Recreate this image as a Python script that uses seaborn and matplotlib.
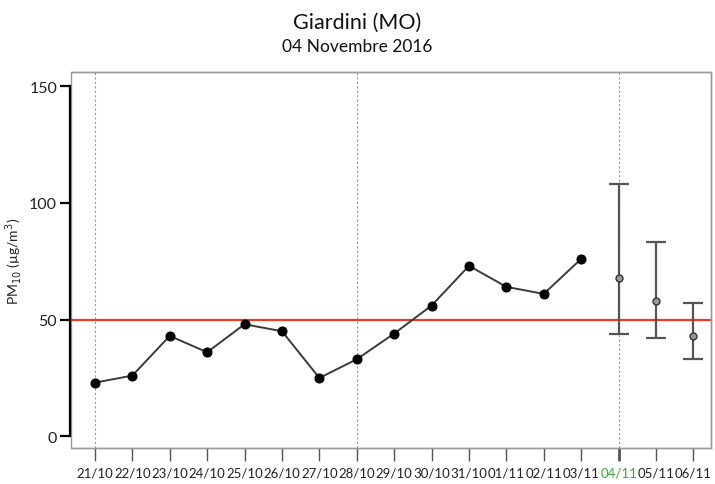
import numpy as np
import pandas as pd
import matplotlib
matplotlib.use('Agg')
import matplotlib.pyplot as plt
import seaborn as sb

# dati osservati e previsti
GIORNI = ['21/10', '22/10', '23/10', '24/10', '25/10', '26/10', '27/10', '28/10', '29/10',
          '30/10', '31/10', '01/11', '02/11', '03/11', '04/11', '05/11', '06/11']
OSSERVATI = [23, 26, 43, 36, 48, 45, 25, 33, 44, 56, 73, 64, 61, 76]
PREVISTI = [68, 58, 43]
PREV_MIN = [44, 42, 33]
PREV_MAX = [108, 83, 57]
LIMITE = 50
GIORNI_LINEE = ['21/10', '28/10', '04/11']
OGGI = '04/11'

pos = {g: i for i, g in enumerate(GIORNI)}
df_oss = pd.DataFrame({'giorno': GIORNI[:len(OSSERVATI)], 'PM10': OSSERVATI})
df_oss['x'] = df_oss['giorno'].map(pos)
df_prev = pd.DataFrame({'giorno': GIORNI[len(OSSERVATI):], 'PM10': PREVISTI,
                        'min': PREV_MIN, 'max': PREV_MAX})
df_prev['x'] = df_prev['giorno'].map(pos)

sb.set_style('white')
plt.rcParams['font.family'] = ['Lato', 'DejaVu Sans']

fig = plt.figure(figsize=(7.15, 4.85), dpi=100)
ax = fig.add_axes([0.0993, 0.0742, 0.8951, 0.7753])

for g in GIORNI_LINEE:
    ax.axvline(pos[g], color='#999999', linestyle=(0, (2, 2)), linewidth=0.8, zorder=1)
ax.axhline(LIMITE, color='#ee3a24', linewidth=1.6, zorder=2)

sb.lineplot(data=df_oss, x='x', y='PM10', ax=ax, color='#3a3a3a', linewidth=1.4,
            marker='o', markersize=6.5, markerfacecolor='black', markeredgecolor='black', zorder=3)

err = [df_prev['PM10'] - df_prev['min'], df_prev['max'] - df_prev['PM10']]
ax.errorbar(df_prev['x'], df_prev['PM10'], yerr=err, fmt='o', color='#555555',
            ecolor='#555555', elinewidth=1.6, capsize=7, capthick=1.6,
            markersize=5, markerfacecolor='#999999', markeredgecolor='#333333', zorder=3)

ax.set_xlim(-0.64, 16.47)
ax.set_ylim(-5, 156)
ax.set_xticks(range(len(GIORNI)))
ax.set_xticklabels(GIORNI)
ax.set_yticks([0, 50, 100, 150])
ax.set_xlabel('')
ax.set_ylabel('PM$_{10}$ (µg/m$^3$)', fontsize=10, color='#222222', labelpad=4)

for s in ['top', 'right', 'bottom']:
    ax.spines[s].set_color('#999999')
    ax.spines[s].set_linewidth(1)
ax.spines['left'].set_color('black')
ax.spines['left'].set_linewidth(1.6)
ax.spines['left'].set_bounds(0, 150)
ax.spines['left'].set_position(('outward', 1))
ax.patch.set_edgecolor('#999999')
ax.patch.set_linewidth(1)

ax.tick_params(axis='y', direction='out', length=7, width=1.6, color='black',
               labelsize=11.5, labelcolor='#222222', left=True, pad=2)
ax.tick_params(axis='x', direction='out', length=9, width=1, color='#555555',
               labelsize=9.5, labelcolor='#222222', bottom=True, pad=4)
i_oggi = pos[OGGI]
ax.get_xticklabels()[i_oggi].set_color('#3aaa35')
ax.xaxis.get_major_ticks()[i_oggi].tick1line.set_color('#3aaa35')
ax.xaxis.get_major_ticks()[i_oggi].tick1line.set_markeredgewidth(2)

fig.text(0.5, 0.952, 'Giardini (MO)', ha='center', va='center', fontsize=15.5,
         color='#111111')
fig.text(0.5, 0.903, '04 Novembre 2016', ha='center', va='center', fontsize=12.5,
         color='#111111')

plt.savefig('out.png', dpi=100)
